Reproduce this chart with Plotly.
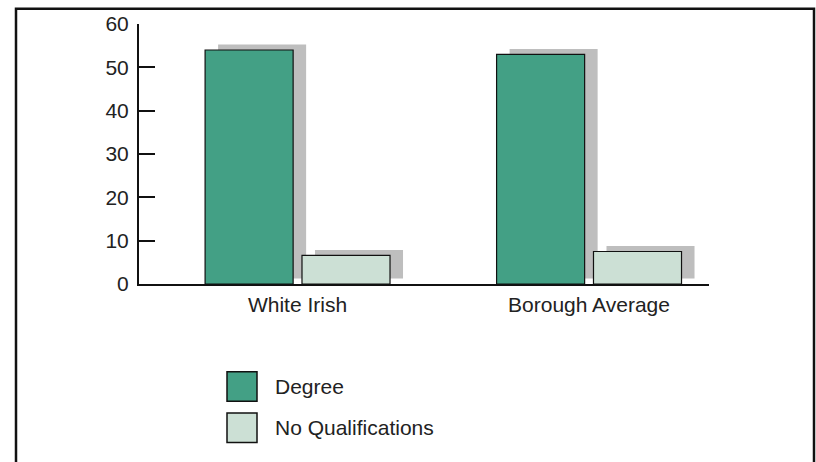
import plotly.graph_objects as go

# ---- data ----
categories = ["White Irish", "Borough Average"]
series_names = ["Degree", "No Qualifications"]
degree = [54, 53]
no_qualifications = [6.6, 7.5]
y_ticks = [0, 10, 20, 30, 40, 50, 60]

# ---- styles ----
colors = ["#43a085", "#cce0d5"]
shadow_color = "#bebebe"
font_family = "Liberation Sans, Arial, Helvetica, sans-serif"
W, H = 816, 462
L, R, T, B = 139, 709, 20, 284  # plot area pixel bounds

def px_x(p):
    return (p - L) / (R - L)

def px_y(p):
    return (B - p) / (B - T)

xpos = list(range(len(categories)))
bar_w = 0.302
offsets = [-0.317, 0.0154]
shadow_dx = 0.0446
shadow_base = 1.25

fig = go.Figure()
series = [degree, no_qualifications]
# shadows
for vals, off in zip(series, offsets):
    fig.add_trace(go.Bar(
        x=xpos, y=vals, base=[shadow_base] * len(vals),
        width=[bar_w] * len(vals), offset=[off + shadow_dx] * len(vals),
        marker=dict(color=shadow_color, line=dict(width=0)),
        showlegend=False, hoverinfo="skip"))
# bars
for name, vals, off, c in zip(series_names, series, offsets, colors):
    fig.add_trace(go.Bar(
        x=xpos, y=vals, name=name,
        width=[bar_w] * len(vals), offset=[off] * len(vals),
        marker=dict(color=c, line=dict(color="#111", width=1.2)),
        showlegend=False))

shapes = []
# outer frame (open at bottom)
fl, fr, ft, fb = px_x(16), px_x(814), px_y(4.5), px_y(475)
shapes.append(dict(type="path", xref="paper", yref="paper",
                   path=f"M {fl} {fb} L {fl} {ft} L {fr} {ft} L {fr} {fb}",
                   line=dict(color="#111", width=2.5)))
annotations = []
# custom legend
leg_y = [373, 415]
for i, (name, c) in enumerate(zip(series_names, colors)):
    y0 = leg_y[i]
    shapes.append(dict(type="rect", xref="paper", yref="paper",
                       x0=px_x(227), x1=px_x(257), y0=px_y(y0 + 30), y1=px_y(y0),
                       fillcolor=c, line=dict(color="#111", width=1.5)))
    annotations.append(dict(xref="paper", yref="paper", x=px_x(273), y=px_y(y0 + 15),
                            text=name, showarrow=False, xanchor="left", yanchor="middle",
                            font=dict(family=font_family, size=21, color="#222")))

x0 = (L - 297.5) / 291.5
x1 = (R - 297.5) / 291.5
fig.update_layout(
    width=W, height=H, barmode="overlay",
    margin=dict(l=L, r=W - R, t=T, b=H - B, pad=0),
    plot_bgcolor="white", paper_bgcolor="white",
    font=dict(family=font_family, size=21, color="#222"),
    shapes=shapes, annotations=annotations,
    xaxis=dict(range=[x0, x1], tickvals=xpos, ticktext=categories,
               showline=True, linecolor="#111", linewidth=2, ticks="",
               showgrid=False, zeroline=False, fixedrange=True,
               ticklabelstandoff=1),
    yaxis=dict(range=[0, 60], tickvals=y_ticks, showline=True, linecolor="#111",
               linewidth=2, ticks="inside", ticklen=16, tickwidth=2, tickcolor="#111",
               showgrid=False, zeroline=False, fixedrange=True,
               ticklabelstandoff=4),
)
fig.write_html("out.html", config={"displayModeBar": False},
               post_script="document.body.style.margin='0px';document.body.style.overflow='hidden';")
